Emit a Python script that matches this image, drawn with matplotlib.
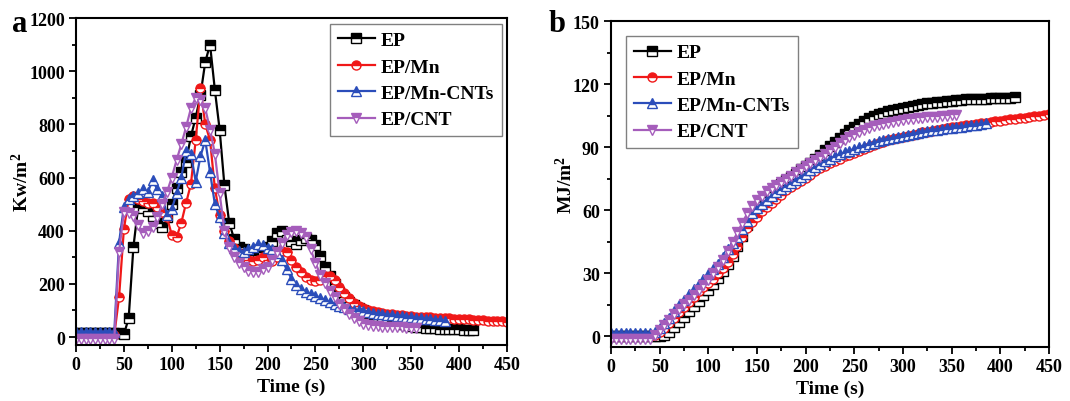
import numpy as np
import matplotlib
matplotlib.use("Agg")
import matplotlib.pyplot as plt
from matplotlib.ticker import MultipleLocator

plt.rcParams['font.family'] = ['Liberation Serif', 'DejaVu Serif']
plt.rcParams['font.weight'] = 'bold'
plt.rcParams['axes.labelweight'] = 'bold'
plt.rcParams['mathtext.default'] = 'regular'

STEP = 5  # sampling interval of the cone calorimeter (s)

series_names = ["EP", "EP/Mn", "EP/Mn-CNTs", "EP/CNT"]
series_colors = ["#000000", "#F01818", "#2B4DBA", "#A55DBB"]
series_markers = ["s", "o", "^", "v"]

# Heat release rate (kW/m^2), one value every 5 s
hrr_ep = [15, 15, 15, 15, 15, 15, 15, 15, 15, 15,
          10, 70, 340, 490, 485, 475, 455, 430, 415, 450,
          500, 560, 620, 660, 755, 825, 910, 1035, 1100, 930,
          780, 570, 430, 370, 340, 330, 320, 310, 310, 320,
          340, 360, 390, 400, 385, 360, 350, 365, 372, 365,
          345, 305, 262, 230, 200, 170, 150, 130, 120, 110,
          100, 92, 85, 78, 72, 66, 60, 55, 50, 46,
          42, 39, 36, 35, 34, 33, 32, 31, 30, 30,
          29, 28, 28, 27]
hrr_mn = [8, 8, 8, 8, 8, 8, 8, 8, 8, 150,
          405, 520, 530, 520, 510, 505, 505, 490, 470, 450,
          385, 375, 430, 505, 575, 740, 935, 800, 740, 560,
          460, 400, 360, 335, 315, 300, 290, 285, 290, 300,
          290, 285, 300, 325, 320, 290, 265, 245, 225, 215,
          210, 215, 230, 230, 215, 190, 165, 145, 128, 117,
          108, 102, 97, 93, 90, 88, 86, 84, 82, 80,
          78, 77, 76, 75, 74, 73, 72, 71, 70, 69,
          68, 67, 66, 65, 64, 63, 62, 61, 60, 59,
          58]
hrr_mncnt = [18, 18, 18, 18, 18, 18, 18, 18, 18, 355,
             490, 520, 530, 540, 555, 545, 590, 555, 530, 460,
             480, 540, 600, 700, 690, 585, 680, 740, 620, 500,
             450, 390, 355, 335, 325, 320, 330, 340, 350, 345,
             335, 330, 315, 290, 255, 220, 195, 180, 170, 160,
             155, 148, 140, 130, 125, 118, 112, 107, 103, 100,
             97, 94, 91, 88, 86, 84, 82, 80, 78, 76,
             74, 72, 70, 68, 66, 65, 63, 62]
hrr_cnt = [-8, -8, -8, -8, -8, -8, -8, -8, -8, 320,
           470, 465, 455, 420, 390, 400, 415, 450, 500, 545,
           600, 665, 725, 790, 860, 900, 890, 860, 780, 690,
           540, 400, 340, 300, 280, 265, 250, 245, 245, 255,
           265, 290, 320, 355, 385, 395, 398, 392, 375, 330,
           280, 235, 205, 175, 150, 125, 105, 85, 70, 60,
           50, 45, 42, 40, 39, 38, 37, 36, 36, 35,
           35, 35]

# Total heat release (MJ/m^2), one value every 5 s
thr_ep = [0, 0, 0, 0, 0, 0, 0, 0, 0, 0,
          0, 0.5, 2, 4.5, 7, 9.5, 12, 14.5, 17, 19.5,
          22, 25, 28, 31, 34.5, 38.5, 43, 48, 53, 57.5,
          61, 64, 66.5, 68.5, 70.5, 72.5, 74.5, 76, 77.5, 79.5,
          81, 82.5, 84.5, 86.5, 88.5, 90.5, 92.5, 94.5, 96.5, 98,
          99.5, 101, 102.5, 103.8, 104.8, 105.7, 106.5, 107.2, 107.8, 108.3,
          108.8, 109.3, 109.7, 110.1, 110.5, 110.8, 111.1, 111.4, 111.7, 112,
          112.2, 112.4, 112.6, 112.7, 112.8, 112.9, 113, 113.1, 113.2, 113.3,
          113.4, 113.5, 113.6, 113.7]
thr_mn = [0, 0, 0, 0, 0, 0, 0, 0, 0, 0.5,
          2, 4, 6.5, 9, 11.5, 14, 16.5, 19, 21.5, 23.5,
          25.5, 27.5, 30, 32.5, 35.5, 39, 43, 47.5, 51.5, 54.5,
          57, 59.5, 61.5, 63.5, 65.5, 67.5, 69.5, 71, 72.5, 74,
          75.5, 77, 78.5, 80, 81.3, 82.5, 83.6, 84.6, 85.6, 86.5,
          87.4, 88.3, 89.2, 90.1, 91, 91.8, 92.5, 93.2, 93.8, 94.4,
          95, 95.5, 96, 96.5, 97, 97.4, 97.8, 98.2, 98.6, 99,
          99.4, 99.8, 100.2, 100.5, 100.8, 101.1, 101.4, 101.7, 102, 102.3,
          102.6, 102.9, 103.2, 103.5, 103.8, 104.1, 104.4, 104.7, 105, 105.3,
          105.6]
thr_mncnt = [1.5, 1.5, 1.5, 1.5, 1.5, 1.5, 1.5, 1.5, 1.5, 2,
             4, 6.5, 9, 12, 15, 17.5, 20, 22.5, 25, 27.5,
             29.5, 32, 34.5, 38, 41.5, 44.5, 47.5, 51, 55, 58.5,
             61, 63, 65, 67, 68.5, 70, 71.5, 73, 74.5, 76,
             77.5, 79, 80.5, 82, 83.3, 84.5, 85.6, 86.6, 87.5, 88.4,
             89.2, 90, 90.7, 91.4, 92.1, 92.8, 93.4, 94, 94.5, 95,
             95.5, 96, 96.4, 96.8, 97.2, 97.6, 98, 98.3, 98.6, 98.9,
             99.2, 99.5, 99.8, 100.1, 100.4, 100.7, 101, 101.3]
thr_cnt = [-1, -1, -1, -1, -1, -1, -1, -1, -1, 0.5,
           3, 5.5, 8, 10.5, 13, 15.5, 17.5, 19.5, 22, 24.5,
           27, 30, 33, 36.5, 40.5, 45, 49.5, 54, 58.5, 62,
           65, 67, 69, 70.5, 72, 73.5, 75, 76.5, 78, 79.5,
           81, 82.5, 84, 85.5, 87, 88.7, 90.3, 91.9, 93.4, 94.8,
           96, 97.2, 98.2, 99.1, 99.9, 100.6, 101.2, 101.7, 102.1, 102.5,
           102.9, 103.2, 103.5, 103.8, 104, 104.2, 104.4, 104.6, 104.8, 105,
           105.2, 105.4]

hrr_data = [hrr_ep, hrr_mn, hrr_mncnt, hrr_cnt]
thr_data = [thr_ep, thr_mn, thr_mncnt, thr_cnt]

fig = plt.figure(figsize=(10.70, 4.02), dpi=100)
ax_a = fig.add_axes([0.0710, 0.1393, 0.4028, 0.8134])
ax_b = fig.add_axes([0.5710, 0.1343, 0.4093, 0.8109])


def draw_series(ax, data):
    for vals, name, col, mk in zip(data, series_names, series_colors, series_markers):
        t = STEP * np.arange(len(vals))
        ax.plot(t, vals, color=col, lw=1.6, marker=mk, markersize=6.5,
                fillstyle='top', markerfacecolor=col,
                markerfacecoloralt='white', markeredgecolor=col,
                markeredgewidth=1.0, label=name)


def style_axes(ax, ylim, ymajor, yminor, ylabel):
    ax.set_xlim(0, 450)
    ax.set_ylim(*ylim)
    ax.xaxis.set_major_locator(MultipleLocator(50))
    ax.xaxis.set_minor_locator(MultipleLocator(25))
    ax.yaxis.set_major_locator(MultipleLocator(ymajor))
    ax.yaxis.set_minor_locator(MultipleLocator(yminor))
    ax.tick_params(which='both', direction='out', top=False, right=False,
                   labelsize=13, width=1.3)
    ax.tick_params(which='major', length=5, pad=3)
    ax.tick_params(which='minor', length=3)
    for s in ax.spines.values():
        s.set_linewidth(1.5)
    for lab in ax.get_xticklabels() + ax.get_yticklabels():
        lab.set_fontweight('bold')
    ax.set_xlabel("Time (s)", fontsize=14, fontweight='bold', labelpad=3)
    ax.set_ylabel(ylabel, fontsize=14, fontweight='bold', labelpad=-2)


def add_legend(ax, loc, anchor):
    leg = ax.legend(loc=loc, bbox_to_anchor=anchor, borderaxespad=0,
                    fontsize=14, handlelength=1.9, handletextpad=0.3,
                    labelspacing=0.45, borderpad=0.4, fancybox=False,
                    edgecolor='#808080', framealpha=1)
    leg.get_frame().set_linewidth(1.0)
    return leg


draw_series(ax_a, hrr_data)
style_axes(ax_a, (-30, 1200), 200, 100, "Kw/m$^2$")
add_legend(ax_a, 'upper right', (0.988, 0.982))

draw_series(ax_b, thr_data)
style_axes(ax_b, (-5, 150), 30, 15, "MJ/m$^2$")
add_legend(ax_b, 'upper left', (0.034, 0.954))

fig.text(0.018, 0.94, "a", fontsize=22, fontweight='bold', ha='center', va='center')
fig.text(0.521, 0.94, "b", fontsize=22, fontweight='bold', ha='center', va='center')

fig.savefig("out.png", dpi=100)
